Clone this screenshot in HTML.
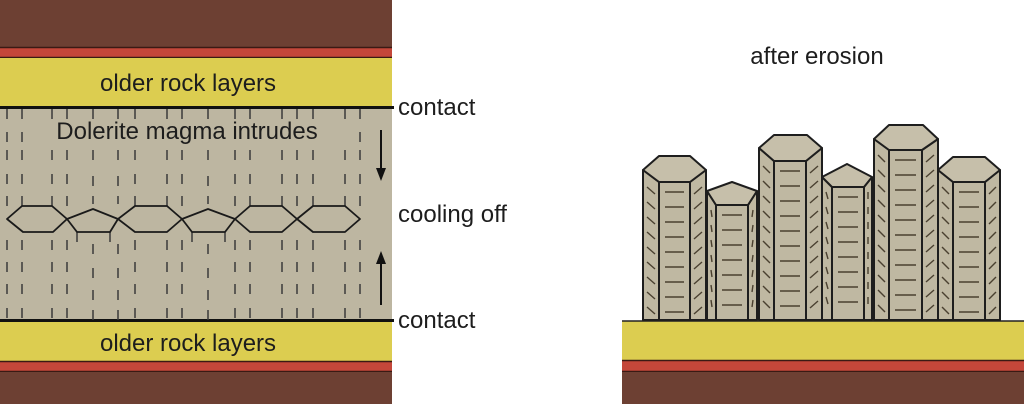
<!DOCTYPE html>
<html><head><meta charset="utf-8"><style>
html,body{margin:0;padding:0;background:#fff;}
svg{display:block;}
text{font-family:"Liberation Sans",Arial,sans-serif;fill:#1d1d1d;}
</style></head><body>
<svg id="s" width="1024" height="404" viewBox="0 0 1024 404" xmlns="http://www.w3.org/2000/svg">
<rect x="0" y="0" width="1024" height="404" fill="#fff"/>
<rect x="0" y="0" width="392" height="47" fill="#6d4033"/>
<rect x="0" y="47" width="392" height="11" fill="#c4473a"/>
<line x1="0" y1="47.5" x2="392" y2="47.5" stroke="#3a1a14" stroke-width="1.5"/>
<line x1="0" y1="57.5" x2="392" y2="57.5" stroke="#3a1a14" stroke-width="1.5"/>
<rect x="0" y="58" width="392" height="49" fill="#dccd50"/>
<rect x="0" y="107" width="392" height="214" fill="#bdb6a1"/>
<line x1="0" y1="107.5" x2="394" y2="107.5" stroke="#111" stroke-width="3"/>
<line x1="0" y1="320.5" x2="394" y2="320.5" stroke="#111" stroke-width="3"/>
<rect x="0" y="322" width="392" height="39" fill="#dccd50"/>
<rect x="0" y="361" width="392" height="11" fill="#c4473a"/>
<line x1="0" y1="361.5" x2="392" y2="361.5" stroke="#3a1a14" stroke-width="1.5"/>
<line x1="0" y1="371.5" x2="392" y2="371.5" stroke="#3a1a14" stroke-width="1.5"/>
<rect x="0" y="372" width="392" height="32" fill="#6d4033"/>
<g id="dashes" stroke="#3a3a3a" stroke-width="1.5"></g>
<g fill="none" stroke="#1a1a1a" stroke-width="1.8" stroke-linejoin="round">
<polygon points="7,219 22,206 52,206 67,219 53,232 23,232"/>
<polygon points="67,219 93,209 118,219 110,232 77,232"/>
<polygon points="118,219 135,206 167,206 182,219 167,232 135,232"/>
<polygon points="182,219 208,209 235,219 225,232 192,232"/>
<polygon points="235,219 250,206 282,206 297,219 282,232 250,232"/>
<polygon points="297,219 313,206 345,206 360,219 345,232 313,232"/>
</g>
<text x="188" y="91" font-size="24" text-anchor="middle">older rock layers</text>
<text x="187" y="139" font-size="24" text-anchor="middle">Dolerite magma intrudes</text>
<text x="188" y="351" font-size="24" text-anchor="middle">older rock layers</text>
<line x1="381" y1="130" x2="381" y2="170" stroke="#111" stroke-width="2"/>
<polygon points="376,168 386,168 381,181" fill="#111"/>
<line x1="381" y1="262" x2="381" y2="305" stroke="#111" stroke-width="2"/>
<polygon points="376,264 386,264 381,251" fill="#111"/>
<text x="398" y="115" font-size="24">contact</text>
<text x="398" y="222" font-size="24">cooling off</text>
<text x="398" y="328" font-size="24">contact</text>
<text x="817" y="64" font-size="24" text-anchor="middle">after erosion</text>
<rect x="622" y="321" width="402" height="39" fill="#dccd50"/>
<line x1="622" y1="321" x2="1024" y2="321" stroke="#222" stroke-width="1.5"/>
<rect x="622" y="360" width="402" height="12" fill="#c4473a"/>
<line x1="622" y1="360.5" x2="1024" y2="360.5" stroke="#3a1a14" stroke-width="1.5"/>
<line x1="622" y1="371.5" x2="1024" y2="371.5" stroke="#3a1a14" stroke-width="1.5"/>
<rect x="622" y="372" width="402" height="32" fill="#6d4033"/>
<g id="cols"></g>
</svg>
<script>
var NS="http://www.w3.org/2000/svg";
function el(p,t,a){var e=document.createElementNS(NS,t);for(var k in a)e.setAttribute(k,a[k]);p.appendChild(e);return e;}
var d=document.getElementById('dashes');
var xs=[7,22,52,67,135,167,182,235,250,282,297,313,345,360];
var xs2=[93,118,208];
var rows=[109,132,150,174,196,240,262,284,308];
xs.forEach(function(x){rows.forEach(function(y){if(y>=200&&y<=236)return; if(y==132&&x>40&&x<350)return; el(d,'line',{x1:x,y1:y,x2:x,y2:y+10});});});
xs2.forEach(function(x){[109,150,176,244,268,290,310].forEach(function(y){el(d,'line',{x1:x,y1:y,x2:x,y2:y+10});});});
[93,118,208].forEach(function(x){el(d,'line',{x1:x,y1:196,x2:x,y2:204});});
[77,110,192,225].forEach(function(x){el(d,'line',{x1:x,y1:232,x2:x,y2:242});});
var c=document.getElementById('cols');var B=320;
var cols=[[643,706,156,170,659,690,182],[707,757,182,191,716,748,205],[759,822,135,148,774,806,161],[822,872,164,177,832,864,187],[874,938,125,139,889,922,150],[938,1000,157,170,953,985,182]];
cols.forEach(function(q){var x0=q[0],x1=q[1],t=q[2],cy=q[3],fl=q[4],fr=q[5],ft=q[6];var a=(fl-x0);
var g=el(c,'g',{stroke:'#1e1e1e','stroke-width':'2','stroke-linejoin':'round'});
el(g,'polygon',{points:[x0,cy,x0,B,x1,B,x1,cy,fr,ft,fl,ft].join(' '),fill:'#bfb8a2'});
var top=(x1-x0)>55?[x0,cy,x0+a,t,x1-a,t,x1,cy,fr,ft,fl,ft]:[x0,cy,(x0+x1)/2,t,x1,cy,fr,ft,fl,ft];
el(g,'polygon',{points:top.join(' '),fill:'#c6bfaa'});
el(g,'line',{x1:fl,y1:ft,x2:fl,y2:B});el(g,'line',{x1:fr,y1:ft,x2:fr,y2:B});
var h=el(c,'g',{stroke:'#4a4030','stroke-width':'1.4'});
for(var y=ft+10;y<B-3;y+=15){el(h,'line',{x1:fl+6,y1:y,x2:fr-6,y2:y});}
for(var y=ft+8;y<B-6;y+=15){el(h,'line',{x1:x0+4,y1:y-3,x2:fl-4,y2:y+4});el(h,'line',{x1:fr+4,y1:y+4,x2:x1-4,y2:y-3});}
});
</script>
</body></html>
